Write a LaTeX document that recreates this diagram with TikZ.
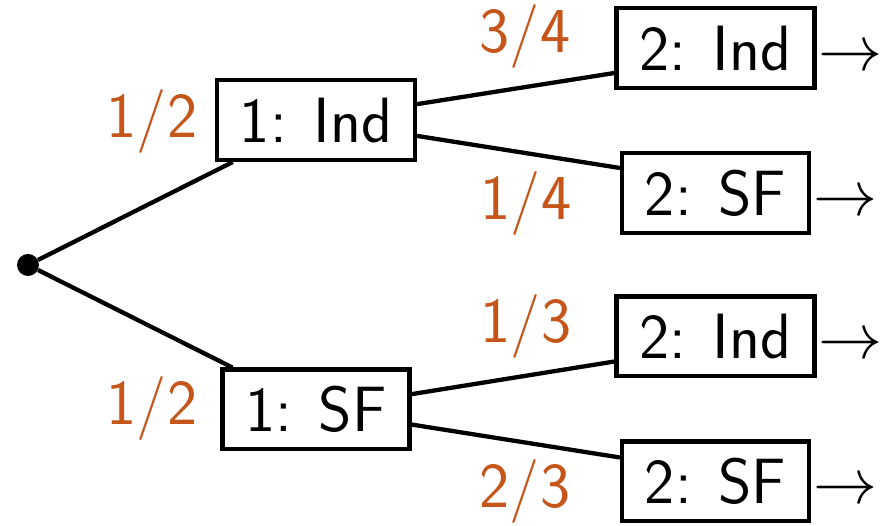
\documentclass[tikz,border=0pt]{standalone}
\usepackage{fix-cm}
\usetikzlibrary{calc}
\definecolor{probc}{RGB}{197,85,25}
\begin{document}
\begin{tikzpicture}[x=1pt,y=1pt,
  every node/.style={font=\fontsize{64}{76}\selectfont\sffamily},
  box/.style={draw,line width=4.4pt,inner xsep=22.8pt,inner ysep=17.3pt,text height=45pt,text depth=0pt},
  prob/.style={text=probc,anchor=base,inner sep=0pt},
  edge/.style={line width=4.3pt},
  arr/.style={anchor=base west,inner sep=0pt}]
\useasboundingbox (0,0) rectangle (892,526);
% root
\node[circle,fill,inner sep=0pt,minimum size=22pt] (r) at (28,261) {};
% level 1
\node[box] (p1) at (316,406) {1: Ind};
\node[box] (p2) at (316,116.5) {1: SF};
% level 2
\node[box] (c1) at (715.5,478) {2: Ind};
\node[box] (c2) at (715.5,333) {2: SF};
\node[box] (c3) at (715.5,189.5) {2: Ind};
\node[box] (c4) at (715.5,44.5) {2: SF};
% end points of the edges on the children
\coordinate (e1) at ($(c1.west)+(0,-25)$);
\coordinate (e2) at ($(c2.west)+(0,25)$);
\coordinate (e3) at ($(c3.west)+(0,-25)$);
\coordinate (e4) at ($(c4.west)+(0,24)$);
% edges
\draw[edge] (r) -- (p1);
\draw[edge] (r) -- (p2);
\draw[edge] (p1) -- (e1);
\draw[edge] (p1) -- (e2);
\draw[edge] (p2) -- (e3);
\draw[edge] (p2) -- (e4);
% arrows
\node[arr] (a1) at ($(c1.base -| c1.east)+(2,0)$) {$\rightarrow$};
\node[arr] (a2) at ($(c2.base -| c2.east)+(2,0)$) {$\rightarrow$};
\node[arr] (a3) at ($(c3.base -| c3.east)+(2,0)$) {$\rightarrow$};
\node[arr] (a4) at ($(c4.base -| c4.east)+(2,0)$) {$\rightarrow$};
% probabilities
\node[prob] (l1) at (152,388) {1/2};
\node[prob] (l2) at (152,101) {1/2};
\node[prob] (l3) at (525,473) {3/4};
\node[prob] (l4) at (526,306) {1/4};
\node[prob] (l5) at (526,183) {1/3};
\node[prob] (l6) at (525,18) {2/3};
\end{tikzpicture}
\end{document}
